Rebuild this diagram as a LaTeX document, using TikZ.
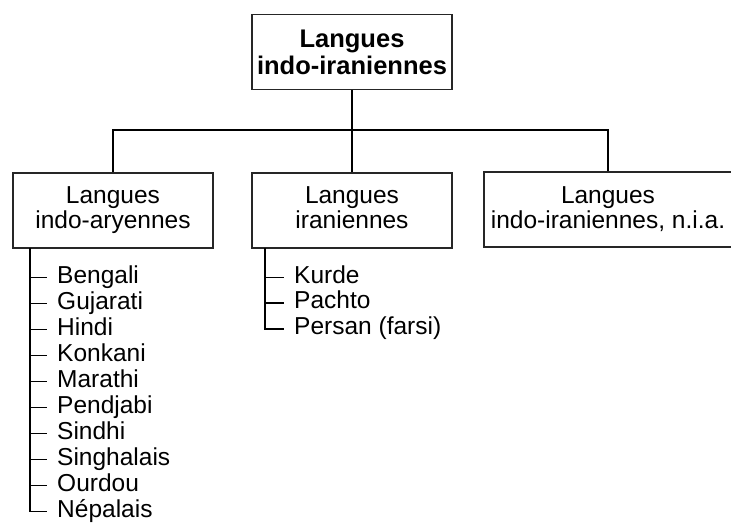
\documentclass[tikz,border=0pt]{standalone}
\usepackage{fontspec}
\setmainfont{Liberation Sans}
\usepackage{tikz}

\begin{document}
\begin{tikzpicture}[x=1pt,y=-1pt,
  box/.style={draw=black!85,line width=1.8pt,minimum width=200pt,minimum height=75pt,inner sep=0pt,align=center,font=\fontsize{24.5}{25}\selectfont},
  lang/.style={anchor=west,inner sep=0pt,text height=17pt,text depth=6pt,font=\fontsize{24.5}{25}\selectfont},
  tree/.style={line width=1.8pt}]
\useasboundingbox (0,0) rectangle (731,527);

\node[box,font=\fontsize{25.5}{27}\selectfont\bfseries] (0) at (352,52) {Langues\\indo-iraniennes};

\node[box] (1) at (113,210.5) {Langues\\indo-aryennes};
\node[box] (2) at (352,210.5) {Langues\\iraniennes\vphantom{y}};
\node[box,minimum width=248pt] (3) at (608,209.5) {Langues\\indo-iraniennes, n.i.a.};

\coordinate (bar) at (352,130);
\draw[tree] (0.south) -- (bar);
\draw[tree] (1.north) |- (bar);
\draw[tree] (3.north) |- (bar);
\draw[tree] (2.north) -- (2.north |- bar);

% indo-aryennes
\node[lang] (1-1) at (57,277.5) {Bengali};
\node[lang] (1-2) at (57,303.5) {Gujarati};
\node[lang] (1-3) at (57,329.5) {Hindi};
\node[lang] (1-4) at (57,355.5) {Konkani};
\node[lang] (1-5) at (57,381.5) {Marathi};
\node[lang] (1-6) at (57,407.5) {Pendjabi};
\node[lang] (1-7) at (57,433.5) {Sindhi};
\node[lang] (1-8) at (57,459.5) {Singhalais};
\node[lang] (1-9) at (57,485.5) {Ourdou};
\node[lang] (1-10) at (57,511.5) {Népalais};

\coordinate (l1) at (30,248);
\draw[tree] (l1) |- ([xshift=-10pt]1-10.west);
\draw[tree] (l1 |- 1-1) -- ([xshift=-10pt]1-1.west);
\draw[tree] (l1 |- 1-2) -- ([xshift=-10pt]1-2.west);
\draw[tree] (l1 |- 1-3) -- ([xshift=-10pt]1-3.west);
\draw[tree] (l1 |- 1-4) -- ([xshift=-10pt]1-4.west);
\draw[tree] (l1 |- 1-5) -- ([xshift=-10pt]1-5.west);
\draw[tree] (l1 |- 1-6) -- ([xshift=-10pt]1-6.west);
\draw[tree] (l1 |- 1-7) -- ([xshift=-10pt]1-7.west);
\draw[tree] (l1 |- 1-8) -- ([xshift=-10pt]1-8.west);
\draw[tree] (l1 |- 1-9) -- ([xshift=-10pt]1-9.west);

% iraniennes
\node[lang] (2-1) at (294,277.5) {Kurde};
\node[lang] (2-2) at (294,303) {Pachto};
\node[lang] (2-3) at (294,329) {Persan (farsi)};

\coordinate (l2) at (265,248);
\draw[tree] (l2) |- ([xshift=-10pt]2-3.west);
\draw[tree] (l2 |- 2-1) -- ([xshift=-10pt]2-1.west);
\draw[tree] (l2 |- 2-2) -- ([xshift=-10pt]2-2.west);

\end{tikzpicture}
\end{document}
